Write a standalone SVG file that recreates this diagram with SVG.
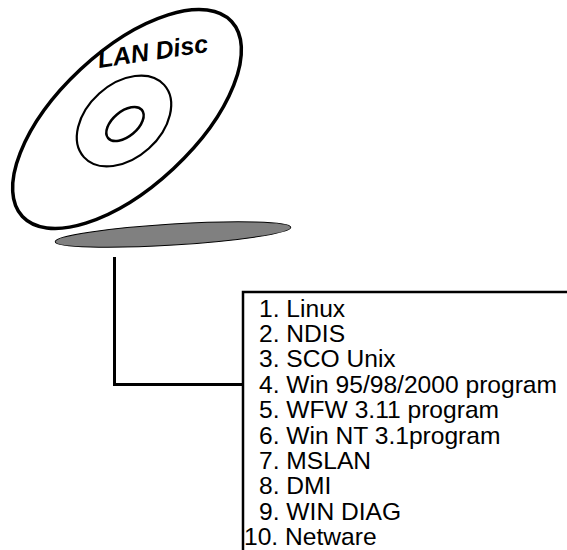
<svg xmlns="http://www.w3.org/2000/svg" width="567" height="550" viewBox="0 0 567 550">
  <style>
    .ring { fill: none; stroke: #000; }
    .item { font-family: "Liberation Sans", Arial, sans-serif; font-size: 24.6px; fill: #000; }
    .wire { fill: none; stroke: #000; stroke-width: 3; }
  </style>
  <rect width="567" height="550" fill="#fff"/>

  <!-- shadow under the disc -->
  <g id="shadow">
    <ellipse cx="173" cy="234.5" rx="118" ry="10.5" transform="rotate(-3.5 173 234.5)" fill="#808080" stroke="#000" stroke-width="1"/>
  </g>

  <!-- tilted disc with hub rings and label -->
  <g id="disc">
    <ellipse cx="127" cy="119" rx="143" ry="68" transform="rotate(-43 127 119)" fill="#fff" stroke="#000" stroke-width="3.5"/>
    <ellipse class="ring" cx="124" cy="121" rx="54" ry="37" transform="rotate(-42 124 121)" stroke-width="2.2"/>
    <ellipse class="ring" cx="125" cy="124" rx="22" ry="12.5" transform="rotate(-40 125 124)" stroke-width="2.5"/>
    <text transform="translate(99 68) rotate(-8.5)" font-family="'Liberation Sans', Arial, sans-serif" font-size="25" font-weight="bold" font-style="italic" fill="#000">LAN Disc</text>
  </g>

  <!-- connector from disc to list -->
  <g id="connectors">
    <polyline class="wire" points="114.5,257 114.5,384.5 243,384.5"/>
  </g>

  <!-- contents list -->
  <g id="contents">
    <rect x="243" y="292" width="400" height="300" fill="#fff" stroke="#000" stroke-width="2.5"/>
    <text class="item" x="259" y="316.7">1. Linux</text>
    <text class="item" x="259" y="342.1">2. NDIS</text>
    <text class="item" x="259" y="367.4">3. SCO Unix</text>
    <text class="item" x="259" y="392.8">4. Win 95/98/2000 program</text>
    <text class="item" x="259" y="418.2">5. WFW 3.11 program</text>
    <text class="item" x="259" y="443.6">6. Win NT 3.1program</text>
    <text class="item" x="259" y="468.9">7. MSLAN</text>
    <text class="item" x="259" y="494.3">8. DMI</text>
    <text class="item" x="259" y="519.7">9. WIN DIAG</text>
    <text class="item" x="244" y="545">10. Netware</text>
  </g>
</svg>
